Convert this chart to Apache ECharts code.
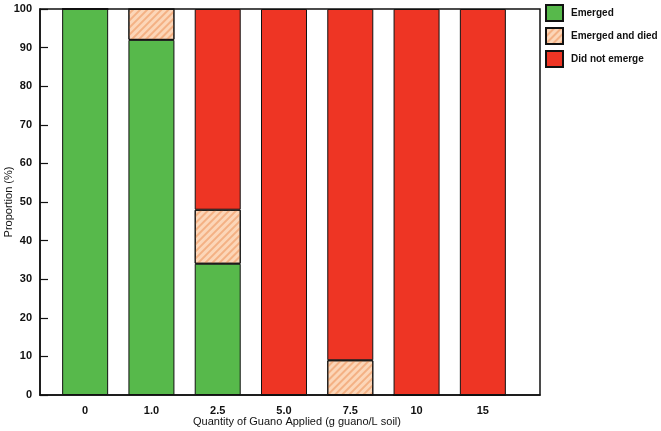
<!DOCTYPE html>
<html><head><meta charset="utf-8">
<script src="https://cdn.jsdelivr.net/npm/echarts@6/dist/echarts.min.js"></script>
<style>html,body{margin:0;padding:0;background:#fff}#c{width:661px;height:431px}</style>
</head><body><div id="c"></div>
<script>
var categories = ['0', '1.0', '2.5', '5.0', '7.5', '10', '15'];
var emerged = [100, 92, 34, 0, 0, 0, 0];
var emergedDied = [0, 8, 14, 0, 9, 0, 0];
var didNotEmerge = [0, 0, 52, 100, 91, 100, 100];
var yTicks = [0, 10, 20, 30, 40, 50, 60, 70, 80, 90, 100];

var font = 'Liberation Sans, Arial, sans-serif';
var base = {type:'bar', stack:'s', barWidth:46, xAxisIndex:1, yAxisIndex:1};
var chart = echarts.init(document.getElementById('c'), null, {renderer:'canvas'});
chart.setOption({
  animation:false,
  grid:[
    {left:40, right:121, top:9, bottom:36, outerBoundsMode:'none', containLabel:false, show:true, borderColor:'#111', borderWidth:1.5, backgroundColor:'#fff', z:0},
    {left:52, right:145, top:9, bottom:36, outerBoundsMode:'none', containLabel:false}
  ],
  legend:{orient:'vertical', left:545, top:4, padding:0, itemWidth:17, itemHeight:16, itemGap:5, icon:'rect',
    textStyle:{fontFamily:font, fontSize:10, fontWeight:'bold', color:'#111', padding:[0,0,0,3]},
    data:['Emerged','Emerged and died','Did not emerge']},
  xAxis:[
    {type:'value', gridIndex:0, min:0, max:1, show:true, splitLine:{show:false}, axisTick:{show:false}, axisLabel:{show:false},
      axisLine:{show:true, lineStyle:{color:'#111', width:1.5}}},
    {type:'category', gridIndex:1, data:categories,
      name:'Quantity of Guano Applied (g guano/L soil)', nameLocation:'middle', nameGap:21, nameMoveOverlap:false,
      nameTextStyle:{fontFamily:font, fontSize:11, color:'#111', padding:[0,0,0,26]},
      axisTick:{show:false}, axisLine:{show:false},
      axisLabel:{fontFamily:font, fontSize:11, fontWeight:'bold', color:'#111', margin:10}}
  ],
  yAxis:[
    {type:'value', gridIndex:0, min:0, max:100, interval:10,
      name:'Proportion (%)', nameLocation:'middle', nameGap:26, nameMoveOverlap:false,
      nameTextStyle:{fontFamily:font, fontSize:11, color:'#111'},
      splitLine:{show:false},
      axisTick:{show:true, inside:true, length:8, lineStyle:{color:'#111', width:1.2}},
      axisLine:{show:true, lineStyle:{color:'#111', width:1.5}},
      axisLabel:{fontFamily:font, fontSize:11, fontWeight:'bold', color:'#111', margin:8,
        formatter:function(v){ return yTicks.indexOf(v) >= 0 ? String(v) : ''; }}},
    {type:'value', gridIndex:1, min:0, max:100, show:false, splitLine:{show:false}}
  ],
  series:[
    Object.assign({}, base, {name:'Emerged', data:emerged, itemStyle:{color:'#57b94b', borderColor:'#111', borderWidth:1}}),
    Object.assign({}, base, {name:'Emerged and died', data:emergedDied, itemStyle:{color:'#fcd6b8', borderColor:'#111', borderWidth:1,
      decal:{symbol:'rect', symbolSize:1, dashArrayX:[1,0], dashArrayY:[1.2,3], rotation:-Math.PI/4, color:'rgba(236,140,80,0.5)'}}}),
    Object.assign({}, base, {name:'Did not emerge', data:didNotEmerge, itemStyle:{color:'#ee3524', borderColor:'#111', borderWidth:1}})
  ]
});
</script></body></html>
